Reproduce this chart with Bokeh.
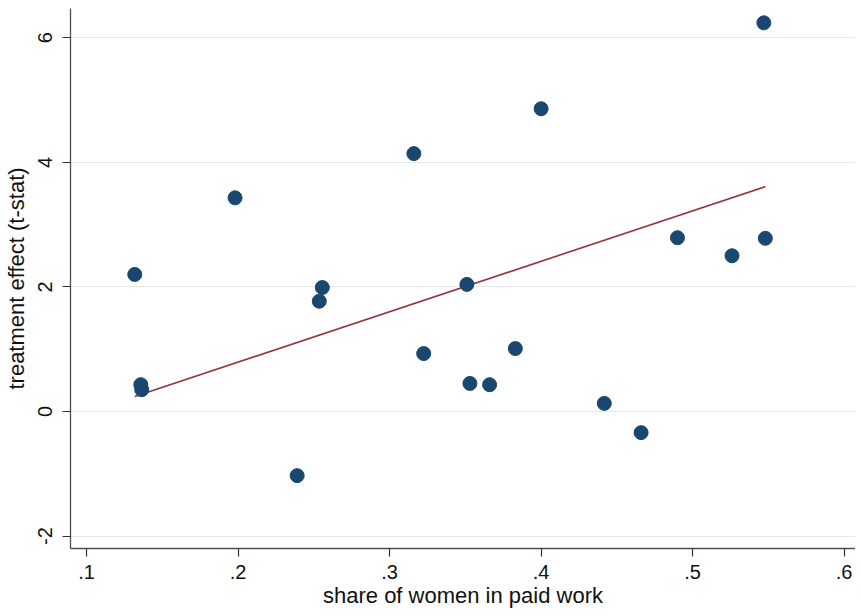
import math
from bokeh.plotting import figure
from bokeh.models import Range1d, FixedTicker, CustomJSTickFormatter
from bokeh.embed import file_html
from bokeh.resources import INLINE

# Data
share_women = [0.1318, 0.1358, 0.1364, 0.198, 0.239, 0.2536, 0.2556, 0.316, 0.3225, 0.351,
               0.353, 0.366, 0.383, 0.400, 0.4417, 0.466, 0.490, 0.526, 0.547, 0.548]
t_stat = [2.20, 0.43, 0.35, 3.43, -1.03, 1.77, 1.99, 4.14, 0.93, 2.04,
          0.45, 0.43, 1.01, 4.86, 0.13, -0.34, 2.79, 2.50, 6.24, 2.78]
fit_x = [0.1318, 0.548]
fit_y = [0.24, 3.61]
x_ticks = [0.1, 0.2, 0.3, 0.4, 0.5, 0.6]
y_ticks = [-2, 0, 2, 4, 6]

FONT = "Liberation Sans"

p = figure(width=855, height=612, output_backend="svg", toolbar_location=None,
           x_range=Range1d(0.0894, 0.6075), y_range=Range1d(-2.2, 6.47),
           min_border_left=70, min_border_bottom=64, min_border_top=8, min_border_right=0)
p.outline_line_color = None
p.background_fill_color = "white"
p.border_fill_color = "white"

p.xgrid.grid_line_color = None
p.ygrid.grid_line_color = "#e8e8e8"
p.ygrid.grid_line_width = 1.2

p.line(fit_x, fit_y, line_color="#90353b", line_width=1.6)
p.scatter(share_women, t_stat, size=14, fill_color="#1a476f", line_color="#1a476f")

p.xaxis.ticker = FixedTicker(ticks=x_ticks)
p.yaxis.ticker = FixedTicker(ticks=y_ticks)
p.xaxis.formatter = CustomJSTickFormatter(code="return tick.toFixed(1).replace(/^0/, '');")
p.yaxis.formatter = CustomJSTickFormatter(code="return tick.toFixed(0);")

for ax in (p.xaxis[0], p.yaxis[0]):
    ax.axis_line_color = "#4d4d4d"
    ax.axis_line_width = 1.3
    ax.major_tick_line_color = "#333333"
    ax.major_tick_line_width = 1.2
    ax.major_tick_out = 8
    ax.major_tick_in = 0
    ax.minor_tick_line_color = None
    ax.major_label_text_font = FONT
    ax.major_label_text_font_size = "20px"
    ax.major_label_text_color = "#111111"
    ax.axis_label_text_font = FONT
    ax.axis_label_text_font_size = "22px"
    ax.axis_label_text_font_style = "normal"
    ax.axis_label_text_color = "#111111"

p.xaxis.axis_label = "share of women in paid work"
p.yaxis.axis_label = "treatment effect (t-stat)"
p.yaxis.major_label_orientation = "vertical"
p.xaxis.major_label_standoff = 8
p.yaxis.major_label_standoff = 10
p.xaxis.axis_label_standoff = 1
p.yaxis.axis_label_standoff = 7

open("out.html", "w").write(file_html(p, INLINE))
